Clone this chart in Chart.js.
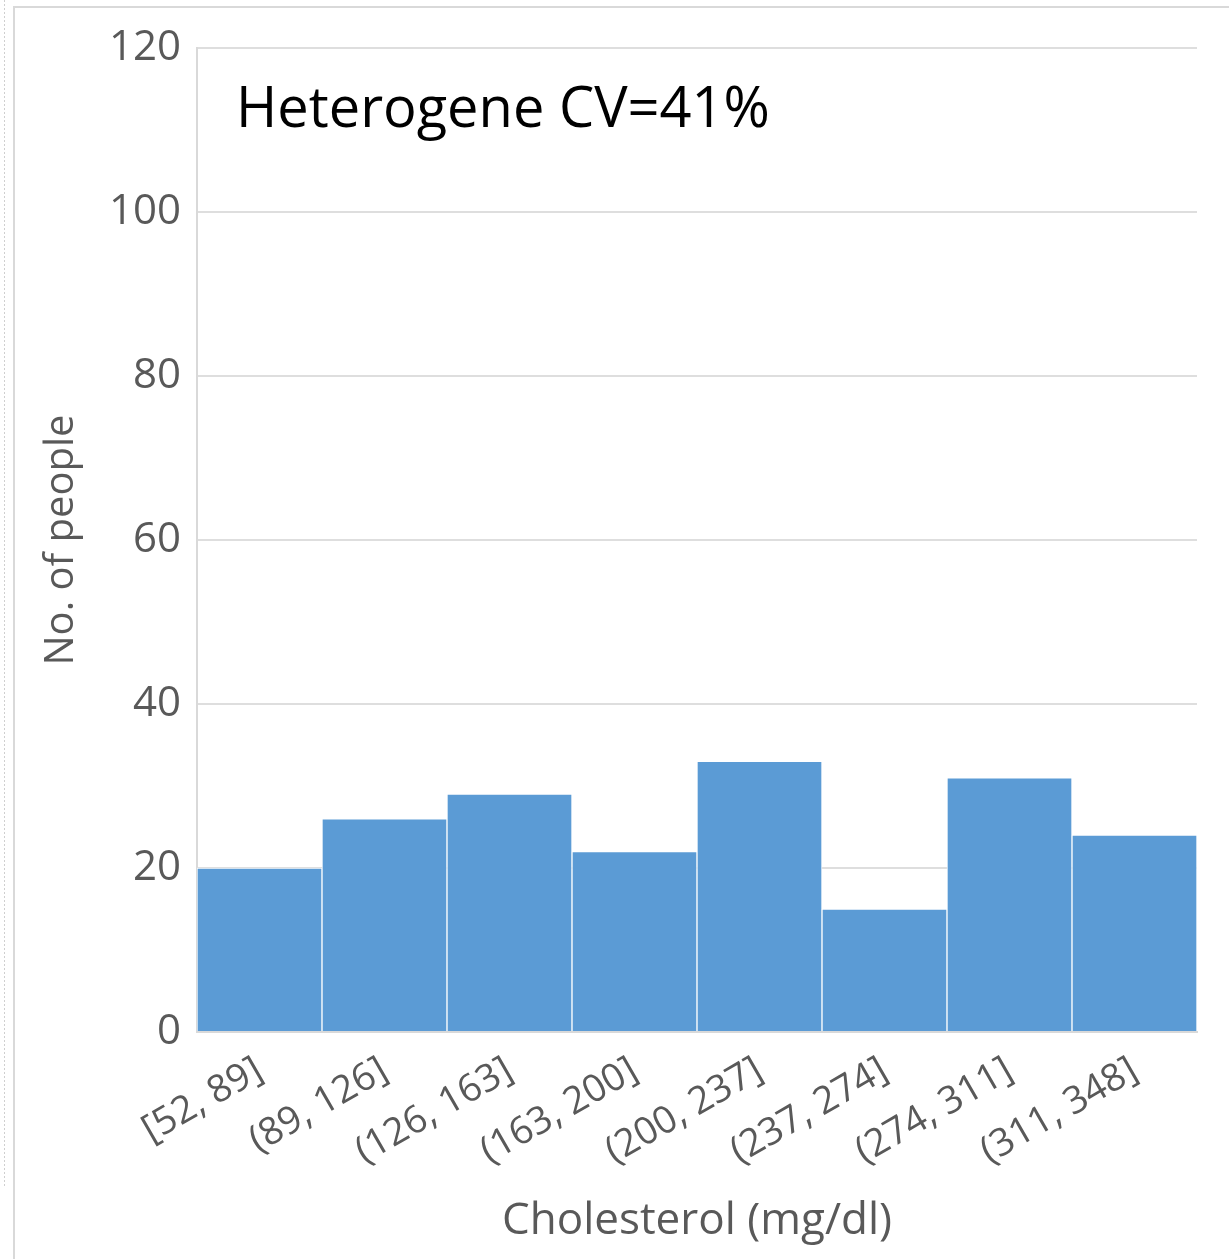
<!DOCTYPE html>
<html>
<head>
<meta charset="utf-8">
<script src="https://cdn.jsdelivr.net/npm/chart.js@4.4.0/dist/chart.umd.min.js"></script>
<style>
  html, body { margin: 0; padding: 0; background: #ffffff; }
  #wrap { width: 1229px; height: 1259px; position: relative; }
</style>
</head>
<body>
<div id="wrap"><canvas id="c" width="1229" height="1259"></canvas></div>
<script>
const categories = ['[52, 89]', '(89, 126]', '(126, 163]', '(163, 200]', '(200, 237]', '(237, 274]', '(274, 311]', '(311, 348]'];
const counts = [20, 26, 29, 22, 33, 15, 31, 24];
const yTicks = [0, 20, 40, 60, 80, 100, 120];
const annotationText = 'Heterogene CV=41%';
const xTitle = 'Cholesterol (mg/dl)';
const yTitle = 'No. of people';

const FONT = "'Open Sans', 'DejaVu Sans', sans-serif";
const GRAY = '#595959';
const GRID = '#dedede';

const framePlugin = {
  id: 'frame',
  beforeDraw(chart) {
    const ctx = chart.ctx;
    ctx.save();
    ctx.strokeStyle = '#d9d9d9';
    ctx.lineWidth = 2;
    ctx.beginPath();
    ctx.moveTo(14, 1259);
    ctx.lineTo(14, 7);
    ctx.lineTo(1229, 7);
    ctx.stroke();
    ctx.setLineDash([2, 2]);
    ctx.lineWidth = 1;
    ctx.strokeStyle = '#cfcfcf';
    ctx.beginPath();
    ctx.moveTo(4.5, 0);
    ctx.lineTo(4.5, 1188);
    ctx.stroke();
    ctx.restore();
  }
};

const annotationPlugin = {
  id: 'annot',
  afterDraw(chart) {
    const ctx = chart.ctx;
    const a = chart.chartArea;
    ctx.save();
    ctx.font = "56px " + FONT;
    ctx.fillStyle = '#000000';
    ctx.textAlign = 'left';
    ctx.textBaseline = 'alphabetic';
    ctx.fillText(annotationText, a.left + 39, a.top + 79);
    ctx.restore();
  }
};

new Chart(document.getElementById('c'), {
  type: 'bar',
  data: {
    labels: categories,
    datasets: [{
      data: counts,
      backgroundColor: '#5B9BD5',
      borderColor: 'rgba(255,255,255,0.85)',
      borderWidth: 1,
      barPercentage: 1.0,
      categoryPercentage: 1.0
    }]
  },
  options: {
    responsive: false,
    animation: false,
    devicePixelRatio: 1,
    layout: { padding: { left: 34, right: 32, top: 48, bottom: 9 } },
    plugins: {
      legend: { display: false },
      tooltip: { enabled: false }
    },
    scales: {
      x: {
        grid: { display: false, drawTicks: false },
        border: { display: true, color: '#d9d9d9', width: 2 },
        ticks: {
          color: GRAY,
          font: { family: FONT, size: 38 },
          maxRotation: 30,
          minRotation: 30,
          padding: 16,
          autoSkip: false
        },
        title: {
          display: true,
          text: xTitle,
          color: GRAY,
          font: { family: FONT, size: 44 },
          padding: { top: 4, bottom: 2 }
        },
        afterFit(scale) { scale.height = 218; }
      },
      y: {
        min: 0,
        max: 120,
        afterBuildTicks(scale) { scale.ticks = yTicks.map(v => ({ value: v })); },
        grid: { color: GRID, lineWidth: 2, drawTicks: false },
        border: { display: true, color: '#d9d9d9', width: 2 },
        ticks: {
          color: GRAY,
          font: { family: FONT, size: 42 },
          padding: 16
        },
        title: {
          display: true,
          text: yTitle,
          color: GRAY,
          font: { family: FONT, size: 40 },
          padding: { top: 4, bottom: 4 }
        },
        afterFit(scale) { scale.width = 163; }
      }
    }
  },
  plugins: [framePlugin, annotationPlugin]
});
</script>
</body>
</html>
